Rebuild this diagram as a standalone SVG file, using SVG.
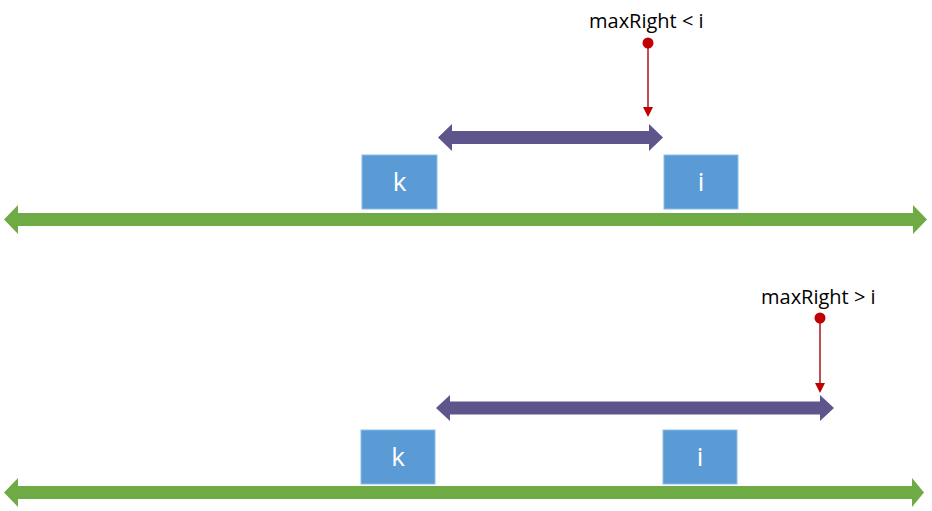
<svg xmlns="http://www.w3.org/2000/svg" width="932" height="511" viewBox="0 0 932 511">
<style>
.axis{fill:#6fab45}
.range{fill:#5d558c}
.box{fill:#5b9bd5;stroke:#8dbbe6;stroke-width:1}
.btxt{font-family:"Open Sans","Liberation Sans",sans-serif;font-size:26px;fill:#fff;text-anchor:middle}
.lbl{font-family:"Open Sans","Liberation Sans",sans-serif;font-size:20px;fill:#000}
.ptr{stroke:#a8141c;stroke-width:1.5;fill:none}
.dot{fill:#c00000}
.tip{fill:#c00000}
</style>
<rect width="932" height="511" fill="#fff"/>
<g id="connectors">
  <polygon id="axis-top" class="axis" points="4,219.5 18,205 18,213 913,213 913,205 927,219.5 913,234 913,226 18,226 18,234"/>
  <polygon id="axis-bottom" class="axis" points="4,492.5 18,478 18,486 912,486 912,478 924,492.5 912,507 912,499 18,499 18,507"/>
  <polygon id="range-top" class="range" points="438,137.5 452,124 452,131 649,131 649,124 663,137.5 649,151 649,144 452,144 452,151"/>
  <polygon id="range-bottom" class="range" points="436,408 450,395 450,401.5 820,401.5 820,395 834,408 820,421 820,414.5 450,414.5 450,421"/>
  <line class="ptr" x1="648" y1="43" x2="648" y2="108"/>
  <polygon class="tip" points="643,107 653,107 648,117"/>
  <line class="ptr" x1="820" y1="318" x2="820" y2="384"/>
  <polygon class="tip" points="815,383 825,383 820,393"/>
</g>
<g id="maxright-top">
  <circle class="dot" cx="648" cy="43" r="5.5"/>
  <text class="lbl" x="589" y="28">maxRight &lt; i</text>
</g>
<g id="maxright-bottom">
  <circle class="dot" cx="820" cy="318" r="5.5"/>
  <text class="lbl" x="761" y="304">maxRight &gt; i</text>
</g>
<g id="k-top">
  <rect class="box" x="362" y="155" width="75" height="54"/>
  <text class="btxt" x="399.5" y="191">k</text>
</g>
<g id="i-top">
  <rect class="box" x="664" y="155" width="74" height="54"/>
  <text class="btxt" x="701" y="191">i</text>
</g>
<g id="k-bottom">
  <rect class="box" x="361" y="430" width="74" height="54"/>
  <text class="btxt" x="398" y="466">k</text>
</g>
<g id="i-bottom">
  <rect class="box" x="663" y="430" width="74" height="54"/>
  <text class="btxt" x="700" y="466">i</text>
</g>
</svg>
